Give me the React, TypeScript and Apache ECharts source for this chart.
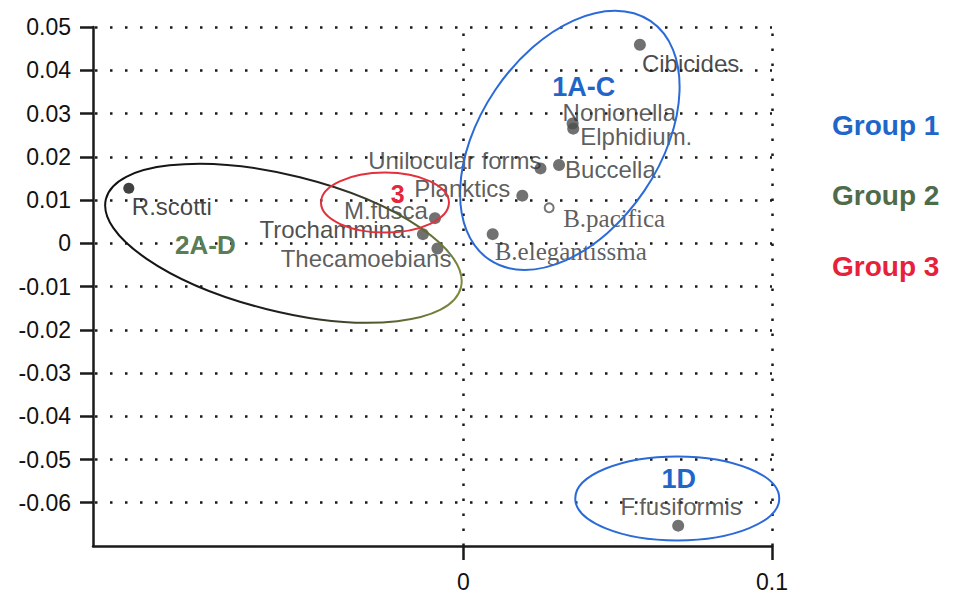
import React, { useEffect, useRef } from "react";
import * as echarts from "echarts";

// ---- data ----
const speciesNames = [
  "R.scotti",
  "Trochammina.",
  "Thecamoebians",
  "M.fusca",
  "Planktics",
  "Unilocular forms",
  "Buccella.",
  "B.pacifica",
  "B.elegantissma",
  "Nonionella",
  "Elphidium.",
  "Cibicides",
  "F.fusiformis",
];
const axis1Scores = [
  -0.1084, -0.0131, -0.0084, -0.0092, 0.0191, 0.025, 0.031, 0.0278, 0.0095,
  0.0354, 0.0356, 0.0572, 0.0696,
];
const axis2Scores = [
  0.0127, 0.0021, -0.0012, 0.0058, 0.011, 0.0173, 0.0181, 0.0082, 0.0021,
  0.0277, 0.0265, 0.0459, -0.0653,
];

const xTickValues = [0, 0.1];
const xTickLabels = ["0", "0.1"];
const yTickValues = [0.05, 0.04, 0.03, 0.02, 0.01, 0, -0.01, -0.02, -0.03, -0.04, -0.05, -0.06];
const yTickLabels = ["0.05", "0.04", "0.03", "0.02", "0.01", "0", "-0.01", "-0.02", "-0.03", "-0.04", "-0.05", "-0.06"];

const groupNames = ["Group 1", "Group 2", "Group 3"];
const clusterNames = ["1A-C", "1D", "2A-D", "3"];

// ---- layout / styles (not data) ----
const labelPlacements: { align: string; offset: number[]; color?: string; serif?: boolean }[] = [
  { align: "left", offset: [3, 18], color: "#111" },
  { align: "right", offset: [-11, -5], color: "#1e1e1e" },
  { align: "right", offset: [14, 10] },
  { align: "right", offset: [-7, -8] },
  { align: "right", offset: [-12, -7] },
  { align: "right", offset: [1, -8] },
  { align: "left", offset: [6, 5] },
  { align: "left", offset: [14, 11], serif: true },
  { align: "left", offset: [2, 17], serif: true },
  { align: "left", offset: [-10, -11] },
  { align: "left", offset: [7, 8] },
  { align: "left", offset: [2, 19], color: "#1a1a1a" },
  { align: "center", offset: [3, -19] },
];

const clusterAnchors = [
  { at: [0.039, 0.0362], color: "#1f66c8", size: 27 },
  { at: [0.0698, -0.0546], color: "#1f66c8", size: 27 },
  { at: [-0.0836, -0.0004], color: "#5b7d55", size: 26 },
  { at: [-0.0213, 0.0113], color: "#e2283a", size: 25 },
];

const ellipses = [
  { at: [0.0345, 0.0238], rx: 144, ry: 90, rotDeg: 56, stroke: "#2a6bd8" },
  { at: [0.0693, -0.059], rx: 102, ry: 42, rotDeg: 0, stroke: "#2a6bd8" },
  { at: [-0.0583, 0.0], rx: 183, ry: 68, rotDeg: -14, stroke: "group2" },
  { at: [-0.0254, 0.0094], rx: 64, ry: 30, rotDeg: 0, stroke: "#e3303c" },
];

const groupColors = ["#2066c9", "#4e6b4a", "#e8213b"];
const groupY = [125, 195, 266];

export default function App() {
  const ref = useRef<HTMLDivElement>(null);

  useEffect(() => {
    const chart = echarts.init(ref.current!, null, { renderer: "svg" });
    const font = "Liberation Sans";

    const lookup = (vals: number[], labels: string[]) => (v: number) => {
      const i = vals.findIndex((t) => Math.abs(t - v) < 1e-9);
      return i >= 0 ? labels[i] : "";
    };

    const data = speciesNames.map((name, i) => {
      const p = labelPlacements[i];
      const item: any = {
        name,
        value: [axis1Scores[i], axis2Scores[i]],
        label: {
          align: p.align,
          offset: p.offset,
          color: p.color || "#333",
          fontFamily: p.serif ? "Liberation Serif" : font,
          fontSize: p.serif ? 25 : 24,
        },
      };
      if (name === "R.scotti") {
        item.symbolSize = 11;
        item.itemStyle = { color: "#111" };
      }
      if (name === "B.pacifica") {
        item.symbolSize = 9;
        item.itemStyle = { color: "#fff", borderColor: "#555", borderWidth: 2 };
      }
      return item;
    });

    const option: any = {
      animation: false,
      grid: { left: 93, right: 185, top: 27, bottom: 50 },
      xAxis: {
        type: "value",
        min: -0.12,
        max: 0.1,
        interval: 0.02,
        axisLine: { show: true, onZero: false, lineStyle: { color: "#1a1a1a", width: 2.5 } },
        axisTick: {
          show: true,
          inside: false,
          length: 14,
          customValues: xTickValues,
          lineStyle: { color: "#1a1a1a", width: 2.5 },
        },
        axisLabel: {
          customValues: xTickValues,
          formatter: lookup(xTickValues, xTickLabels),
          margin: 24,
          fontSize: 23,
          color: "#111",
          fontFamily: font,
        },
        splitLine: { show: false },
      },
      yAxis: {
        type: "value",
        min: -0.07,
        max: 0.05,
        interval: 0.01,
        axisLine: { show: true, onZero: false, lineStyle: { color: "#1a1a1a", width: 2.5 } },
        axisTick: {
          show: true,
          inside: false,
          length: 13,
          customValues: yTickValues,
          lineStyle: { color: "#1a1a1a", width: 2.5 },
        },
        axisLabel: {
          customValues: yTickValues,
          formatter: lookup(yTickValues, yTickLabels),
          margin: 22,
          fontSize: 23,
          color: "#111",
          fontFamily: font,
        },
        splitLine: {
          show: true,
          lineStyle: { type: [2.5, 12.5], dashOffset: 13, width: 2.5, color: "#1a1a1a" },
        },
      },
      series: [
        {
          type: "scatter",
          symbol: "circle",
          symbolSize: 12,
          itemStyle: { color: "#4d4d4d" },
          label: {
            show: true,
            formatter: "{b}",
            position: "inside",
            verticalAlign: "middle",
            fontSize: 24,
            fontFamily: font,
          },
          data,
          z: 5,
          markLine: {
            silent: true,
            symbol: ["none", "none"],
            label: { show: false },
            lineStyle: { type: [2.5, 12.5], width: 2.5, color: "#1a1a1a" },
            data: xTickValues.map((v) => ({ xAxis: v })),
          },
        },
      ],
    };
    chart.setOption(option);

    const toPx = (p: number[]) => chart.convertToPixel({ xAxisIndex: 0, yAxisIndex: 0 }, p) as number[];

    const graphic: any[] = [];
    ellipses.forEach((e) => {
      const [cx, cy] = toPx(e.at);
      const stroke =
        e.stroke === "group2"
          ? new echarts.graphic.LinearGradient(0, 0, 1, 0, [
              { offset: 0, color: "#111" },
              { offset: 0.55, color: "#1f1f1f" },
              { offset: 1, color: "#7d8a3c" },
            ])
          : e.stroke;
      graphic.push({
        type: "ellipse",
        x: cx,
        y: cy,
        rotation: (e.rotDeg * Math.PI) / 180,
        shape: { cx: 0, cy: 0, rx: e.rx, ry: e.ry },
        style: { fill: "none", stroke, lineWidth: 2 },
        silent: true,
        z: 100,
      });
    });
    clusterNames.forEach((n, i) => {
      const a = clusterAnchors[i];
      const [x, y] = toPx(a.at);
      graphic.push({
        type: "text",
        x,
        y,
        style: {
          text: n,
          fill: a.color,
          fontSize: a.size,
          fontWeight: "bold",
          fontFamily: font,
          align: "center",
          verticalAlign: "middle",
        },
        silent: true,
        z: 101,
      });
    });
    groupNames.forEach((g, i) => {
      graphic.push({
        type: "text",
        x: 832,
        y: groupY[i],
        style: {
          text: g,
          fill: groupColors[i],
          fontSize: 28,
          fontWeight: "bold",
          fontFamily: font,
          align: "left",
          verticalAlign: "middle",
        },
        silent: true,
        z: 101,
      });
    });
    chart.setOption({ graphic });

    return () => chart.dispose();
  }, []);

  return (
    <div
      ref={ref}
      style={{ position: "absolute", left: 0, top: 0, width: 957, height: 596, background: "#fff" }}
    />
  );
}
